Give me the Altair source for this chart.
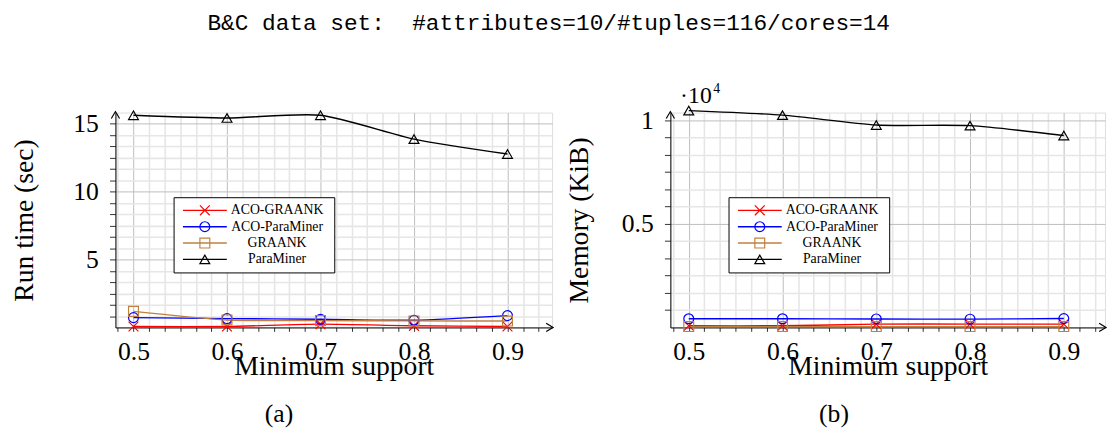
import altair as alt
import pandas as pd

SERIF = "Liberation Serif"
MONO = "Liberation Mono"

# ---------------- data ----------------
series = ["ACO-GRAANK", "ACO-ParaMiner", "GRAANK", "ParaMiner"]
colors = ["#ff0000", "#0000ff", "#bf8040", "#000000"]
support = [0.5, 0.6, 0.7, 0.8, 0.9]

time_aco_graank = [0.07, 0.07, 0.24, 0.12, 0.07]
time_aco_paraminer = [0.72, 0.65, 0.60, 0.53, 0.87]
time_graank = [1.18, 0.55, 0.50, 0.48, 0.47]
time_paraminer = [15.6, 15.4, 15.6, 13.85, 12.75]

mem_aco_graank = [80, 80, 160, 160, 160]
mem_aco_paraminer = [420, 420, 410, 400, 430]
mem_graank = [40, 40, 40, 40, 40]
mem_paraminer = [10476, 10254, 9778, 9746, 9270]

x_major = [0.5, 0.6, 0.7, 0.8, 0.9]
time_major = [5, 10, 15]
mem_major = [5000, 10000]

title_text = "B&C data set:\u00a0 #attributes=10/#tuples=116/cores=14"

# ---------------- styling ----------------
X_PATH = "M-1,-1L1,1M1,-1L-1,1"
shapes = [X_PATH, "circle", "square", "triangle-up"]
sizes = [100, 100, 265, 85]

MAJOR_GRID = "#bdbdbd"
MINOR_GRID = "#e6e6e6"
PLOT_H = 218

x_minor = [round(0.5 + k / 60.0, 6) for k in range(-1, 27)]


def make_panel(values, ydom, ystep, yticks, ylabel_expr, ytitle, width, xdom,
               caption, show_exp):
    rows = []
    for s, vals in zip(series, values):
        for xv, yv in zip(support, vals):
            rows.append({"support": xv, "value": yv, "series": s})
    df = pd.DataFrame(rows)
    deco = pd.DataFrame({"k": [0]})

    xtest = "abs(datum.value*10 - round(datum.value*10)) < 0.0001"
    ytest = f"abs(datum.value/{ystep} - round(datum.value/{ystep})) < 0.0001"

    x_axis = alt.Axis(
        values=x_minor, title="Minimum support", titleFont=SERIF, titleFontSize=28,
        titleFontWeight="normal", titleColor="black", titleBaseline="alphabetic",
        titleY=47.4, labelFont=SERIF, labelFontSize=26, labelColor="black",
        labelBaseline="alphabetic", labelPadding=29, tickSize=4, tickColor="#333333",
        domainColor="black", domainWidth=1, labelOverlap=False, labelFlush=False,
        labelExpr=f"{xtest} ? format(datum.value, '.1f') : ''",
        grid=True,
        gridColor={"condition": {"test": xtest, "value": MAJOR_GRID}, "value": MINOR_GRID},
        gridWidth={"condition": {"test": xtest, "value": 1}, "value": 1.6},
    )
    y_axis = alt.Axis(
        values=yticks, title=ytitle, titleFont=SERIF, titleFontSize=28,
        titleFontWeight="normal", titleColor="black", titleBaseline="middle",
        titleX=-92.3, titleY=PLOT_H / 2, labelFont=SERIF, labelFontSize=26,
        labelColor="black", labelPadding=11.3, tickSize=6, tickColor="#333333",
        domainColor="black", domainWidth=1, labelOverlap=False, labelFlush=False,
        labelExpr=f"{ytest} ? {ylabel_expr} : ''",
        grid=True,
        gridColor={"condition": {"test": ytest, "value": MAJOR_GRID}, "value": MINOR_GRID},
        gridWidth={"condition": {"test": ytest, "value": 1}, "value": 1.6},
    )

    x_enc = alt.X("support:Q", scale=alt.Scale(domain=xdom, nice=False, zero=False), axis=x_axis)
    y_enc = alt.Y("value:Q", scale=alt.Scale(domain=ydom, nice=False, zero=False), axis=y_axis)
    color = alt.Color("series:N", scale=alt.Scale(domain=series, range=colors), legend=None)
    shape = alt.Shape("series:N", scale=alt.Scale(domain=series, range=shapes), legend=None)
    size = alt.Size("series:N", scale=alt.Scale(domain=series, range=sizes), legend=None)

    lines = alt.Chart(df).mark_line(interpolate="cardinal", tension=0.3, strokeWidth=1.4).encode(
        x=x_enc, y=y_enc, color=color)
    points = alt.Chart(df).mark_point(filled=False, strokeWidth=1.2, opacity=1).encode(
        x=x_enc, y=y_enc, color=color, shape=shape, size=size)

    arrow_x = alt.Chart(deco).mark_point(
        shape="M-1,-0.6L0,0L-1,0.6", size=196, filled=False, color="black",
        strokeWidth=1.2, opacity=1).encode(x=alt.value(width + 1), y=alt.value(PLOT_H))
    arrow_y = alt.Chart(deco).mark_point(
        shape="M-0.6,1L0,0L0.6,1", size=196, filled=False, color="black",
        strokeWidth=1.2, opacity=1).encode(x=alt.value(0), y=alt.value(-1))

    cap = alt.Chart(deco).mark_text(
        text=caption, font=SERIF, fontSize=26, align="center", baseline="alphabetic",
        color="black").encode(x=alt.value(166), y=alt.value(314))

    op = 1 if show_exp else 0
    exp_dot = alt.Chart(deco).mark_text(
        text="·", font=SERIF, fontSize=24, align="left", baseline="alphabetic",
        color="black", opacity=op).encode(x=alt.value(9.7), y=alt.value(-9.5))
    exp_main = alt.Chart(deco).mark_text(
        text="10", font=SERIF, fontSize=24, align="left", baseline="alphabetic",
        color="black", opacity=op).encode(x=alt.value(18), y=alt.value(-9.5))
    exp_sup = alt.Chart(deco).mark_text(
        text="4", font=SERIF, fontSize=14, align="left", baseline="alphabetic",
        color="black", opacity=op).encode(x=alt.value(43.5), y=alt.value(-19.5))

    data_layer = alt.layer(lines, points, arrow_x, arrow_y, cap, exp_dot, exp_main, exp_sup)

    # legend drawn inside plot (pgfplots style)
    leg_df = pd.DataFrame({"series": series})
    ly = alt.Y("series:N", scale=alt.Scale(type="point", domain=series, range=[99.2, 149], padding=0),
               axis=None)
    box = alt.Chart(deco).mark_rect(fill="white", stroke="black", strokeWidth=1).encode(
        x=alt.value(59.5), x2=alt.value(222.5), y=alt.value(86.4), y2=alt.value(162.7))
    leg_lines = alt.Chart(leg_df).mark_rule(strokeWidth=1.4).encode(
        x=alt.value(68.5), x2=alt.value(113), y=ly, color=color)
    leg_pts = alt.Chart(leg_df).mark_point(filled=False, strokeWidth=1.2, opacity=1).encode(
        x=alt.value(90.7), y=ly, color=color, shape=shape, size=size)
    leg_txt = alt.Chart(leg_df).mark_text(
        font=SERIF, fontSize=14, align="center", baseline="middle", color="black").encode(
        x=alt.value(164), y=ly, text="series:N")
    legend_layer = alt.layer(box, leg_lines, leg_pts, leg_txt)

    return alt.layer(data_layer, legend_layer).resolve_scale(y="independent").properties(
        width=width, height=PLOT_H)


left = make_panel(
    [time_aco_graank, time_aco_paraminer, time_graank, time_paraminer],
    [0, 15.8], 5, [round(k * 5 / 6, 6) for k in range(1, 19)], "datum.label",
    "Run time (sec)", 443, [0.4807, 0.9477], "(a)", False)

right = make_panel(
    [mem_aco_graank, mem_aco_paraminer, mem_graank, mem_paraminer],
    [0, 10380], 5000, [round(k * 5000 / 6, 3) for k in range(1, 13)],
    "toString(datum.value/10000)", "Memory (KiB)", 441, [0.4804, 0.944], "(b)", True)

chart = alt.hconcat(left, right, spacing=9).properties(
    title=alt.TitleParams(title_text, font=MONO, fontSize=23.1, fontWeight="normal",
                          color="black", anchor="middle", offset=48, dx=-11),
    padding={"left": 2, "top": 0, "right": 0, "bottom": 0},
).configure_view(stroke=None).configure(font=SERIF)

chart.save("out.html", embed_options={"renderer": "svg", "actions": False})
